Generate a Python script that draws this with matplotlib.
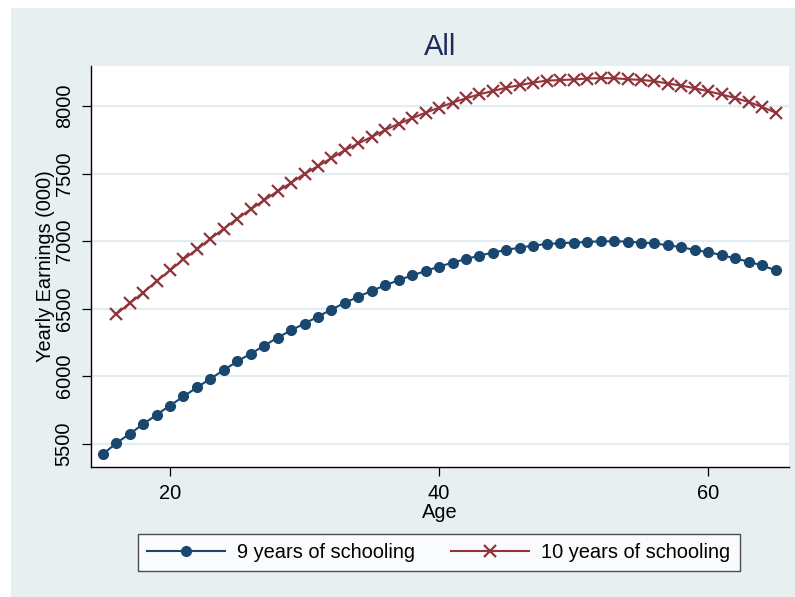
import matplotlib
matplotlib.use("Agg")
import matplotlib.pyplot as plt
from matplotlib.patches import Rectangle

plt.rcParams["font.family"] = ["Liberation Sans", "DejaVu Sans"]

# ages on the x axis
AGES_9 = list(range(15, 66))
AGES_10 = list(range(16, 66))

# yearly earnings (000)
EARN_9 = [
    5421, 5503, 5572, 5644, 5713, 5782, 5849, 5916, 5980, 6045,
    6109, 6166, 6225, 6285, 6339, 6389, 6441, 6493, 6543, 6588,
    6632, 6672, 6711, 6746, 6778, 6811, 6840, 6867, 6892, 6915,
    6934, 6952, 6966, 6978, 6984, 6988, 6993, 6998, 6998, 6996,
    6988, 6983, 6968, 6955, 6933, 6918, 6896, 6871, 6847, 6819, 6784,
]
EARN_10 = [
    6458, 6540, 6617, 6703, 6782, 6864, 6938, 7017, 7091, 7166,
    7235, 7302, 7369, 7431, 7498, 7555, 7614, 7673, 7723, 7772,
    7822, 7869, 7909, 7951, 7988, 8025, 8057, 8087, 8111, 8136,
    8155, 8173, 8188, 8192, 8196, 8203, 8206, 8206, 8198, 8193,
    8184, 8166, 8151, 8131, 8109, 8085, 8059, 8030, 7993, 7951,
]

LABELS = ["9 years of schooling", "10 years of schooling"]
X_TICKS = [20, 40, 60]
Y_TICKS = [5500, 6000, 6500, 7000, 7500, 8000]

BG = "#E8EFF1"
BLUE = "#1A476F"
RED = "#90353B"
FS = 14.4

W, H = 795, 597
fig = plt.figure(figsize=(W / 100, H / 100), dpi=100, facecolor="white")
fig.patches.append(
    Rectangle((11 / W, 0), 1 - 11 / W, (H - 8) / H, transform=fig.transFigure,
              facecolor=BG, edgecolor="none", zorder=-10)
)

ax = fig.add_axes([91 / W, 1 - 467 / H, (789 - 91) / W, (467 - 66) / H])
ax.set_facecolor("white")

ax.plot(AGES_9, EARN_9, color=BLUE, lw=1.5, marker="o", ms=7,
        mfc=BLUE, mec=BLUE, label=LABELS[0], zorder=3)
ax.plot(AGES_10, EARN_10, color=RED, lw=1.5, marker="x", ms=8, mew=1.6,
        label=LABELS[1], zorder=3)

ax.set_xlim(14.13, 66.0)
ax.set_ylim(5327, 8296)
ax.set_xticks(X_TICKS)
ax.set_yticks(Y_TICKS)
ax.tick_params(axis="both", length=6.5, width=0.9, labelsize=FS, pad=6)
for lab in ax.get_yticklabels():
    lab.set_rotation(90)
    lab.set_va("center")

ax.grid(True, axis="y", color="#E3ECEE", lw=1.6, zorder=0)
ax.set_axisbelow(True)
for side in ["top", "right"]:
    ax.spines[side].set_visible(False)
for side in ["left", "bottom"]:
    ax.spines[side].set_linewidth(1.0)

ax.set_xlabel("Age", fontsize=FS, labelpad=0)
ax.set_ylabel("Yearly Earnings (000)", fontsize=FS, labelpad=0)
ax.set_title("All", fontsize=21, color="#1F2A5A", pad=8)

leg = fig.legend(loc="center", bbox_to_anchor=(439 / W, 1 - 552.5 / H), ncol=2,
                 fontsize=FS, frameon=True, fancybox=False, handlelength=3.9,
                 handletextpad=0.6, columnspacing=1.8, borderpad=0.45)
leg.get_frame().set_edgecolor("#222222")
leg.get_frame().set_linewidth(1.0)

fig.savefig("out.png", dpi=100, facecolor=fig.get_facecolor())
